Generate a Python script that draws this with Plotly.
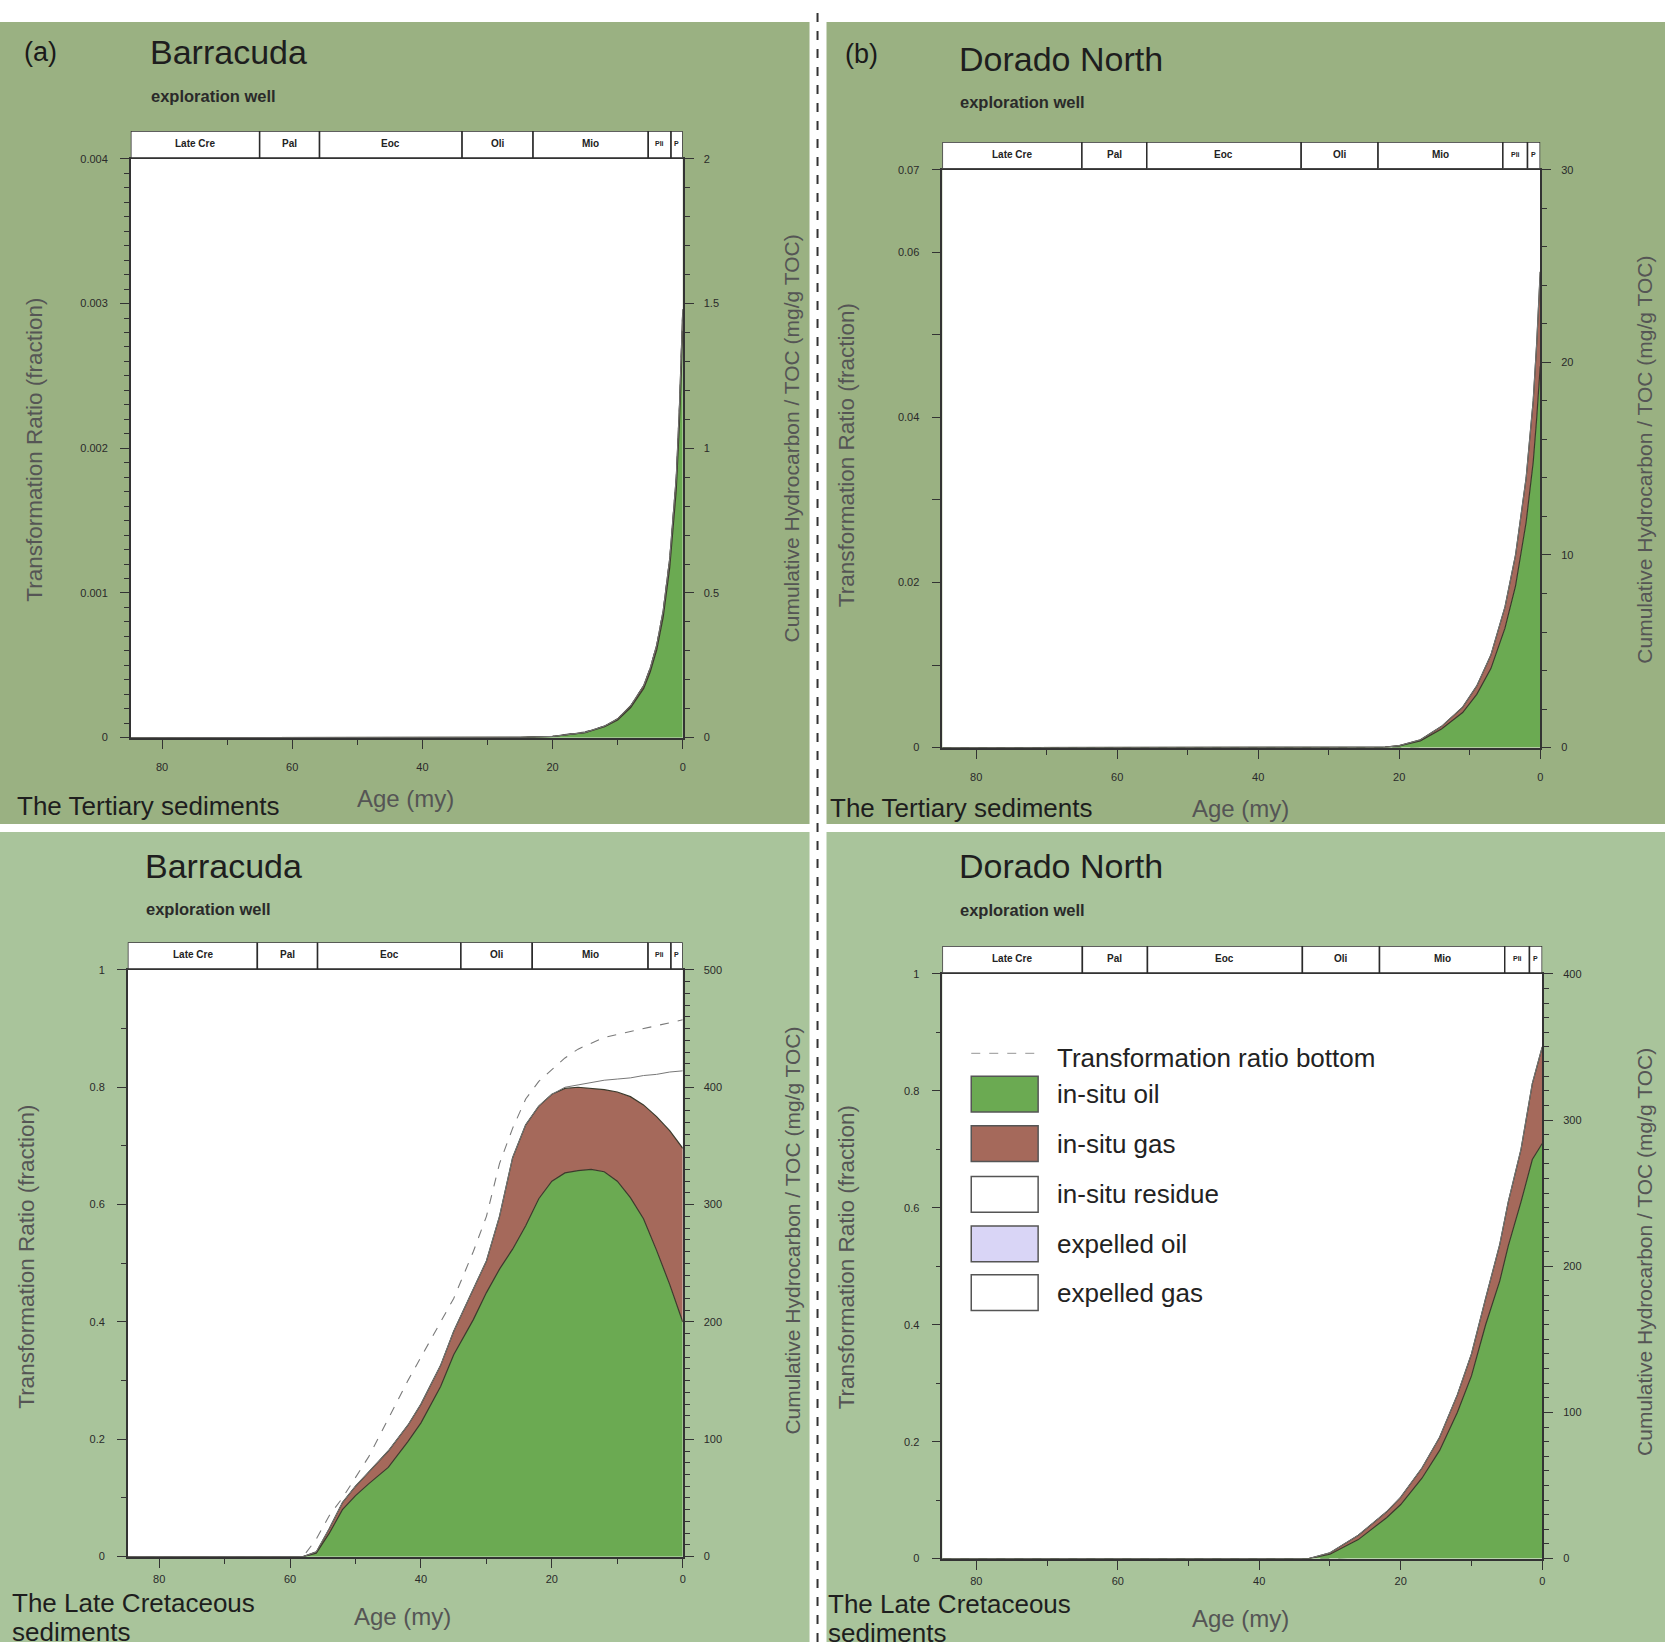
import plotly.graph_objects as go

W, H = 1668, 1648

# ---------------- data ----------------
AGE_MAX = 84.8
period_names = ["Late Cre", "Pal", "Eoc", "Oli", "Mio", "Pli", "P"]
period_start = [84.8, 65.0, 55.8, 33.9, 23.0, 5.3, 1.8]
period_end = [65.0, 55.8, 33.9, 23.0, 5.3, 1.8, 0.0]

# (a) Barracuda - Tertiary sediments
age_a = [84.8, 60, 40, 30, 25, 20, 15, 12, 10, 8, 6, 5, 4, 3, 2, 1, 0.5, 0]
oil_a = [0, 0, 0, 0, 0.001, 0.004, 0.017, 0.038, 0.061, 0.104, 0.17, 0.227, 0.303, 0.417, 0.588, 0.855, 1.093, 1.405]
gas_a = [0, 0, 0, 0, 0, 0.0002, 0.001, 0.002, 0.004, 0.006, 0.01, 0.013, 0.017, 0.023, 0.032, 0.045, 0.057, 0.075]
res_a = [0, 0, 0, 0, 0, 0, 0, 0, 0, 0, 0, 0, 0, 0, 0, 0, 0, 0]
tr_a = [0, 0, 0, 0, 0, 0.00001, 0.00004, 0.00008, 0.00013, 0.00022, 0.00036, 0.00048, 0.00064, 0.00088, 0.00124, 0.0018, 0.0023, 0.00296]

# (b) Dorado North - Tertiary sediments
age_b = [84.8, 60, 40, 30, 22, 20, 17, 14, 11, 9, 7, 5, 3.5, 2, 1, 0.5, 0]
oil_b = [0, 0, 0, 0, 0.02, 0.09, 0.35, 0.96, 1.82, 2.76, 4.1, 6.2, 8.4, 11.7, 14.8, 17.1, 19.8]
gas_b = [0, 0, 0, 0, 0, 0.01, 0.05, 0.14, 0.28, 0.44, 0.7, 1.1, 1.6, 2.3, 3.2, 3.9, 4.9]
res_b = [0, 0, 0, 0, 0, 0, 0, 0, 0, 0, 0, 0, 0, 0, 0, 0, 0]
tr_b = [0, 0, 0, 0, 0, 0, 0.0001, 0.0003, 0.0006, 0.0009, 0.0013, 0.0018, 0.0023, 0.0028, 0.0032, 0.0034, 0.0036]

# (c) Barracuda - Late Cretaceous sediments
age_c = [84.8, 62, 58, 56, 54, 52, 50, 48, 45, 42, 40, 37, 35, 32, 30, 28, 26, 24, 22, 20, 18, 16, 14, 12, 10, 8, 6, 4, 2, 0]
oil_c = [0, 0, 0, 3, 20, 40, 52, 62, 76, 98, 114, 145, 172, 202, 225, 245, 262, 282, 305, 320, 327, 329, 330, 328, 320, 306, 288, 261, 232, 200]
gas_c = [0, 0, 0, 1, 4, 6, 8, 10, 14, 14, 16, 18, 20, 26, 27, 45, 78, 86, 79, 74, 72, 71, 69, 70, 76, 86, 97, 114, 131, 148]
res_c = [0, 0, 0, 0, 0, 0, 0, 0, 0, 0, 0, 0, 0, 0, 0, 0, 0, 0, 0, 0, 1, 2, 5, 8, 11, 16, 25, 36, 50, 66]
tr_c = [0, 0, 0, 0.03, 0.07, 0.1, 0.135, 0.17, 0.235, 0.3, 0.34, 0.4, 0.44, 0.52, 0.58, 0.67, 0.73, 0.78, 0.81, 0.83, 0.85, 0.865, 0.875, 0.885, 0.89, 0.895, 0.9, 0.905, 0.91, 0.915]

# (d) Dorado North - Late Cretaceous sediments
age_d = [84.8, 40, 33, 30, 26, 22, 20, 17, 14.5, 12, 10, 8, 6, 4.8, 3, 1.4, 0]
oil_d = [0, 0, 0, 3, 13, 28, 37, 55, 74, 100, 125, 160, 190, 214, 244, 273, 284]
gas_d = [0, 0, 0, 1, 3, 4, 5, 7, 9, 12, 15, 18, 25, 30, 36, 52, 66]
res_d = [0, 0, 0, 0, 0, 0, 0, 0, 0, 0, 0, 0, 0, 0, 0, 0, 0]
tr_d = [0, 0, 0, 0, 0.003, 0.02, 0.04, 0.075, 0.105, 0.145, 0.18, 0.225, 0.27, 0.3, 0.35, 0.42, 0.49]

legend_labels = ["in-situ oil", "in-situ gas", "in-situ residue", "expelled oil", "expelled gas"]

# ---------------- styles / layout ----------------
GREEN = "#6BAA52"
BROWN = "#A5695B"
EDGE = "#3b3a2c"
TOP_BG = "#9AB182"
BOT_BG = "#A9C49B"
FONT = "Arial"

panels = [
    dict(age=age_a, oil=oil_a, gas=gas_a, res=res_a, tr=tr_a, trc="#7a7a7a",
         plot=(131, 154, 684, 737), bg=(0, 16, 811, 824), bgc=TOP_BG,
         lrange=[0, 0.004], ldt=0.001, lminor=0.0001, ltickvals=None,
         rrange=[0, 2], rdt=0.5, rminor=0.1, xstand=8,
         tag="(a)", tagpos=(22, 46), title="Barracuda", tpos=(148, 46), spos=(149, 91),
         sed=["The Tertiary sediments"], sedpos=(15, 806), agepos=(406, 798),
         ltitle=(35, 447), rtitle=(793, 436)),
    dict(age=age_b, oil=oil_b, gas=gas_b, res=res_b, tr=tr_b, trc="#3f5a33",
         plot=(944, 165, 1543, 747), bg=(828, 16, 1668, 824), bgc=TOP_BG,
         lrange=[0, 0.07], ldt=0.01, lminor=0.01,
         ltickvals=([0, 0.01, 0.02, 0.03, 0.04, 0.05, 0.06, 0.07], ["0", "", "0.02", "", "0.04", "", "0.06", "0.07"]),
         rrange=[0, 30], rdt=10, rminor=2, xstand=8,
         tag="(b)", tagpos=(845, 48), title="Dorado North", tpos=(959, 53), spos=(960, 97),
         sed=["The Tertiary sediments"], sedpos=(829, 808), agepos=(1243, 808),
         ltitle=(848, 452), rtitle=(1648, 457)),
    dict(age=age_c, oil=oil_c, gas=gas_c, res=res_c, tr=tr_c, trc="#7a7a7a",
         plot=(128, 971, 684, 1562), bg=(0, 832, 811, 1648), bgc=BOT_BG,
         lrange=[0, 1], ldt=0.2, lminor=0.1, ltickvals=None,
         rrange=[0, 500], rdt=100, rminor=10, xstand=1,
         tag=None, title="Barracuda", tpos=(143, 866), spos=(144, 910),
         sed=["The Late Cretaceous", "sediments"], sedpos=(10, 1609), agepos=(403, 1622),
         ltitle=(27, 1260), rtitle=(793, 1234)),
    dict(age=age_d, oil=oil_d, gas=gas_d, res=res_d, tr=tr_d, trc="#3f5a33",
         plot=(944, 975, 1545, 1564), bg=(828, 832, 1668, 1648), bgc=BOT_BG,
         lrange=[0, 1], ldt=0.2, lminor=0.1, ltickvals=None,
         rrange=[0, 400], rdt=100, rminor=10, xstand=1,
         tag=None, title="Dorado North", tpos=(959, 866), spos=(960, 911),
         sed=["The Late Cretaceous", "sediments"], sedpos=(827, 1610), agepos=(1243, 1624),
         ltitle=(848, 1260), rtitle=(1648, 1255)),
]


def px(x):
    return x / W


def py(y):
    return 1 - y / H


fig = go.Figure()
shapes = []
annotations = []
layout = {}


def ann(text, x, y, size, color="#1a1a1a", xanchor="left", angle=0, yanchor="middle"):
    annotations.append(dict(
        text=text, x=px(x), y=py(y), xref="paper", yref="paper",
        xanchor=xanchor, yanchor=yanchor, showarrow=False, textangle=angle,
        font=dict(family=FONT, size=size, color=color)))


tickfont = dict(family=FONT, size=11, color="#2a2a2a")

for i, p in enumerate(panels):
    n = i + 1
    xa = "x" if n == 1 else f"x{n}"
    yl_n = 2 * i + 1
    yr_n = 2 * i + 2
    yl = "y" if yl_n == 1 else f"y{yl_n}"
    xb_n = 5 + i
    yb_n = 9 + i
    x0, y0, x1, y1 = p["plot"]

    # panel background, then white plotting area on top of it
    bx0, by0, bx1, by1 = p["bg"]
    shapes.append(dict(type="rect", xref="paper", yref="paper", x0=px(bx0), x1=px(bx1),
                       y0=py(by1), y1=py(by0), fillcolor=p["bgc"], line=dict(width=0), layer="below"))
    shapes.append(dict(type="rect", xref="paper", yref="paper", x0=px(x0), x1=px(x1),
                       y0=py(y1), y1=py(y0), fillcolor="white", line=dict(width=0), layer="below"))

    oil = p["oil"]
    brown = [o + g for o, g in zip(p["oil"], p["gas"])]
    total = [b + r for b, r in zip(brown, p["res"])]

    fig.add_trace(go.Scatter(x=p["age"], y=oil, xaxis=xa, yaxis=f"y{yr_n}", mode="lines",
                             line=dict(color=EDGE, width=1.2), fill="tozeroy", fillcolor=GREEN,
                             name="in-situ oil", showlegend=False))
    fig.add_trace(go.Scatter(x=p["age"], y=brown, xaxis=xa, yaxis=f"y{yr_n}", mode="lines",
                             line=dict(color=EDGE, width=1.2), fill="tonexty", fillcolor=BROWN,
                             name="in-situ gas", showlegend=False))
    fig.add_trace(go.Scatter(x=p["age"], y=total, xaxis=xa, yaxis=f"y{yr_n}", mode="lines",
                             line=dict(color="#777", width=1), fill="tonexty", fillcolor="rgba(255,255,255,1)",
                             name="in-situ residue", showlegend=False))
    fig.add_trace(go.Scatter(x=p["age"], y=p["tr"], xaxis=xa, yaxis=yl, mode="lines",
                             line=dict(color=p["trc"], width=1.1, dash="dash"),
                             name="Transformation ratio bottom", showlegend=False))

    xdom = [px(x0), px(x1)]
    ydom = [py(y1), py(y0)]
    xkey = "xaxis" if n == 1 else f"xaxis{n}"
    layout[xkey] = dict(domain=xdom, anchor=yl, range=[AGE_MAX, 0], tickmode="linear", tick0=0, dtick=20,
                        ticks="outside", ticklen=10, tickwidth=1.3, tickcolor="#333",
                        ticklabelstandoff=p["xstand"],
                        minor=dict(dtick=10, ticks="outside", ticklen=6, tickcolor="#333"),
                        showline=True, linecolor="#333", linewidth=1.5, mirror=True,
                        showgrid=False, zeroline=False, tickfont=tickfont)
    lkey = "yaxis" if yl_n == 1 else f"yaxis{yl_n}"
    ly = dict(domain=ydom, anchor=xa, range=p["lrange"], ticks="outside", ticklen=9, tickwidth=1.3,
              tickcolor="#333", showline=True, linecolor="#333", linewidth=1.5, ticklabelstandoff=10,
              showgrid=False, zeroline=False, tickfont=tickfont,
              minor=dict(dtick=p["lminor"], tick0=0, ticks="outside", ticklen=5, tickcolor="#333"))
    if p["ltickvals"] is None:
        ly.update(tickmode="linear", tick0=0, dtick=p["ldt"])
    else:
        ly.update(tickmode="array", tickvals=p["ltickvals"][0], ticktext=p["ltickvals"][1])
        ly["minor"] = dict(ticks="")
    layout[lkey] = ly
    layout[f"yaxis{yr_n}"] = dict(domain=ydom, anchor=xa, overlaying=yl, side="right", range=p["rrange"],
                                  tickmode="linear", tick0=0, dtick=p["rdt"], ticks="outside", ticklen=9,
                                  tickwidth=1.3, tickcolor="#333", showline=True, linecolor="#333",
                                  linewidth=1.5, showgrid=False, zeroline=False, tickfont=tickfont,
                                  ticklabelstandoff=8,
                                  minor=dict(dtick=p["rminor"], tick0=0, ticks="outside", ticklen=5,
                                             tickcolor="#333"))

    # geological time bar (separate thin subplot sharing the age scale)
    bar_dom = [py(y0 - 1), py(y0 - 28)]
    layout[f"xaxis{xb_n}"] = dict(domain=xdom, anchor=f"y{yb_n}", range=[AGE_MAX, 0], visible=False)
    layout[f"yaxis{yb_n}"] = dict(domain=bar_dom, anchor=f"x{xb_n}", range=[0, 1], visible=False)
    for name, a0, a1 in zip(period_names, period_start, period_end):
        shapes.append(dict(type="rect", xref=f"x{xb_n}", yref=f"y{yb_n}", x0=a0, x1=a1, y0=0, y1=1,
                           fillcolor="white", line=dict(color="#2b2b2b", width=1.5), layer="above"))
        fs = 10 if (a0 - a1) > 4 else 7
        annotations.append(dict(text=f"<b>{name}</b>", x=(a0 + a1) / 2, y=0.55, xref=f"x{xb_n}",
                                yref=f"y{yb_n}", showarrow=False, xanchor="center", yanchor="middle",
                                font=dict(family=FONT, size=fs, color="#222")))

    # texts
    if p["tag"]:
        ann(p["tag"], *p["tagpos"], 27)
    ann(p["title"], *p["tpos"], 34, color="#1e1e1e")
    ann("<b>exploration well</b>", *p["spos"], 16.5, color="#2a2a2a")
    for k, line in enumerate(p["sed"]):
        ann(line, p["sedpos"][0], p["sedpos"][1] + 29 * k, 26, color="#1e1e1e")
    ann("Age (my)", *p["agepos"], 24, color="#555", xanchor="center")
    ann("Transformation Ratio (fraction)", *p["ltitle"], 22.5, color="#555", xanchor="center", angle=-90)
    ann("Cumulative Hydrocarbon / TOC (mg/g TOC)", *p["rtitle"], 21, color="#555", xanchor="center", angle=-90)

# custom legend in panel (d)
leg_x0, leg_x1, text_x = 973, 1040, 1057
shapes.append(dict(type="line", xref="paper", yref="paper", x0=px(leg_x0), x1=px(1037), y0=py(1055), y1=py(1055),
                   line=dict(color="#aaaaaa", width=1.2, dash="dash")))
ann("Transformation ratio bottom", text_x, 1060, 26, color="#222")
leg_fill = [GREEN, BROWN, "white", "#D9D5F6", "white"]
leg_rows = [1096, 1146, 1197, 1247, 1296]
for lab, fc, yc in zip(legend_labels, leg_fill, leg_rows):
    shapes.append(dict(type="rect", xref="paper", yref="paper", x0=px(leg_x0), x1=px(leg_x1),
                       y0=py(yc + 18), y1=py(yc - 18), fillcolor=fc, line=dict(color="#555", width=1.5)))
    ann(lab, text_x, yc, 26, color="#222")

# separator between the left and right columns
shapes.append(dict(type="line", xref="paper", yref="paper", x0=px(819), x1=px(819), y0=0, y1=1,
                   line=dict(color="#333", width=2, dash="dash")))

fig.update_layout(width=W, height=H, margin=dict(l=0, r=0, t=0, b=0), autosize=False,
                  paper_bgcolor="white", plot_bgcolor="white", showlegend=False,
                  shapes=shapes, annotations=annotations, **layout)

fig.write_html("out.html", config={"displayModeBar": False},
               post_script="document.body.style.margin='0';document.body.style.overflow='hidden';")
